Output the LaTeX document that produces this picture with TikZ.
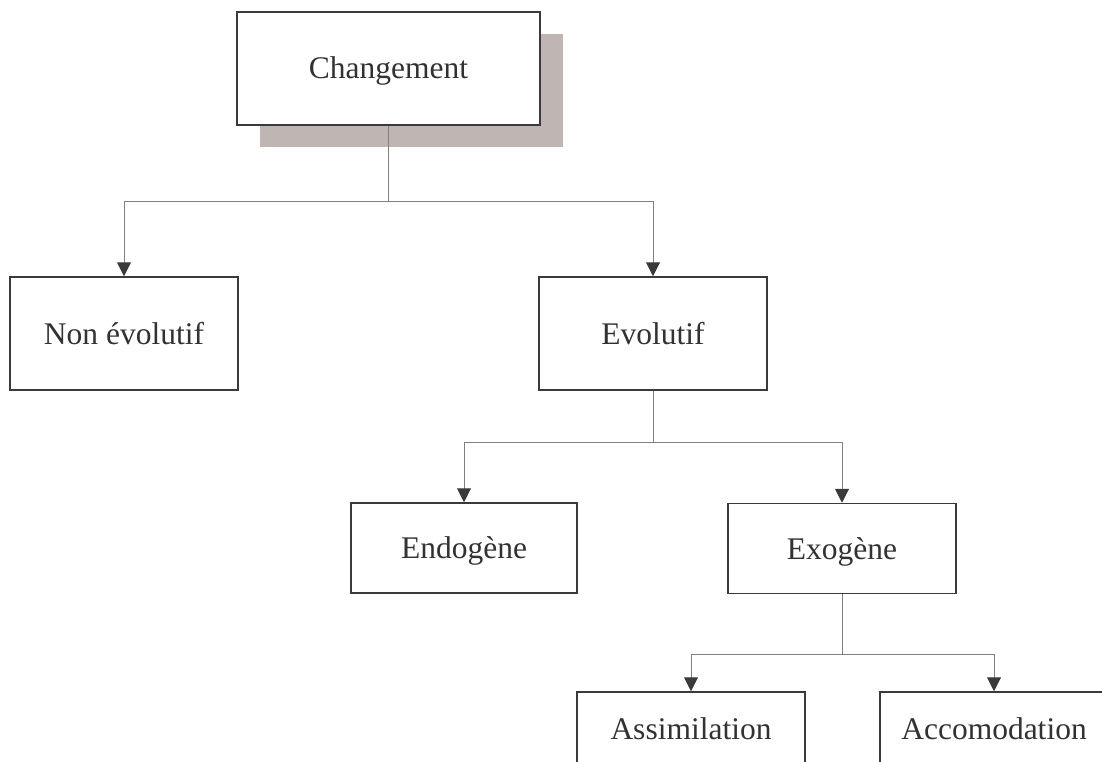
\documentclass[tikz,border=0pt]{standalone}
\usepackage{fontspec}
\setmainfont{Liberation Serif}
\usetikzlibrary{arrows.meta}
\definecolor{boxline}{RGB}{58,58,60}
\definecolor{connline}{RGB}{128,128,128}
\definecolor{shadowfill}{RGB}{191,182,179}
\definecolor{txt}{RGB}{50,50,52}
\tikzset{
  box/.style={draw=boxline, line width=1.5pt, fill=white, inner sep=0pt,
    minimum width=228pt, minimum height=113pt, text=txt,
    font=\fontsize{31.5}{36}\selectfont, text height=21pt, text depth=0pt},
  smallbox/.style={box, minimum height=90pt},
  conn/.style={draw=connline, line width=1pt,
    -{Triangle[width=14pt,length=14pt,color=boxline,fill=boxline]}},
  plain/.style={draw=connline, line width=1pt}
}
\begin{document}
\begin{tikzpicture}[x=1pt,y=-1pt]
\useasboundingbox (0,0) rectangle (1102,762);
\clip (0,0) rectangle (1102,762);
% shadow of the top box
\fill[shadowfill] (260,34) rectangle (563,147);
\node[box, minimum width=303pt] (chg) at (388.5,68.5) {Changement};
\node[box] (nonevo) at (124,333.5) {Non évolutif};
\node[box] (evo) at (653,333.5) {Evolutif};
\node[smallbox, minimum width=226pt] (endo) at (464,548) {Endogène};
\node[smallbox] (exo) at (842,548.5) {Exogène};
\node[box, minimum height=74pt] (assim) at (691,729) {Assimilation};
\node[box, minimum height=74pt] (accom) at (994,729) {Accomodation};
% junctions
\coordinate (j1) at (388.5,201);
\coordinate (j2) at (653,442);
\coordinate (j3) at (842,654);
\draw[plain] (chg.south) -- (j1);
\draw[conn] (j1) -| (nonevo.north);
\draw[conn] (j1) -| (evo.north);
\draw[plain] (evo.south) -- (j2);
\draw[conn] (j2) -| (endo.north);
\draw[conn] (j2) -| (exo.north);
\draw[plain] (exo.south) -- (j3);
\draw[conn] (j3) -| (assim.north);
\draw[conn] (j3) -| (accom.north);
\end{tikzpicture}
\end{document}
